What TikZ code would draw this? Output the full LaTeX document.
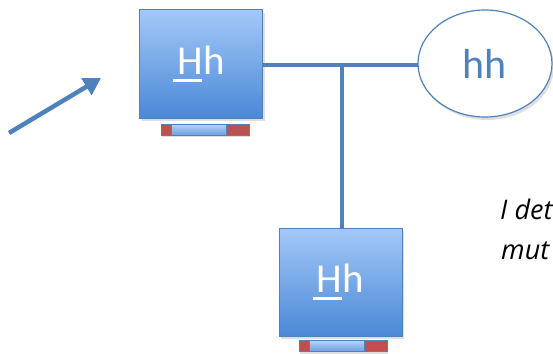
\documentclass[tikz,border=0pt]{standalone}
\usepackage{fontspec}
\setmainfont{Carlito}
\newfontfamily\notefont{Open Sans}
\usepackage{tikz}
\usetikzlibrary{arrows.meta}
\usetikzlibrary{shadows}
\usetikzlibrary{shapes.geometric}

\definecolor{boxtop}{HTML}{A4C8F8}
\definecolor{boxbottom}{HTML}{4A88D6}
\definecolor{boxline}{HTML}{4F81BD}
\definecolor{trayred}{HTML}{C0504D}
\definecolor{traylight}{HTML}{B5D3FA}
\definecolor{traydark}{HTML}{6F9FE0}

% underlined access letter
\newcommand{\keyletter}[1]{\rlap{\hspace{-4pt}\rule[-8pt]{29pt}{3pt}}#1}

\tikzset{
  host/.style={draw=boxline, line width=1pt, top color=boxtop, bottom color=boxbottom,
    minimum width=123, minimum height=108, inner sep=0,
    text=white, font=\fontsize{41}{46}\selectfont,
    drop shadow={opacity=0.25, shadow xshift=2pt, shadow yshift=-3pt}},
  tray/.style={draw=boxline, line width=1pt, top color=traylight, bottom color=traydark,
    minimum width=88, minimum height=11, inner sep=0,
    drop shadow={opacity=0.25, shadow xshift=1pt, shadow yshift=-2pt},
    path picture={
      \fill[trayred] (path picture bounding box.south west) rectangle
        ([xshift=10pt]path picture bounding box.north west);
      \fill[trayred] ([xshift=-23pt]path picture bounding box.south east) rectangle
        (path picture bounding box.north east);
      \draw[boxline] ([xshift=10pt]path picture bounding box.south west) --
        ([xshift=10pt]path picture bounding box.north west);
      \draw[boxline] ([xshift=-23pt]path picture bounding box.south east) --
        ([xshift=-23pt]path picture bounding box.north east);}},
  hub/.style={ellipse, draw=boxline, line width=1.2pt, fill=white,
    minimum width=134, minimum height=107, inner sep=0,
    text=boxline, font=\fontsize{42}{46}\selectfont,
    drop shadow={opacity=0.25, shadow xshift=2pt, shadow yshift=-3pt}},
  wire/.style={draw=boxline, line width=4pt},
  pointer/.style={draw=boxline, line width=4.5pt, -{Triangle[length=17pt,width=19pt]}},
  note/.style={font=\notefont\fontsize{27}{31}\selectfont\itshape, inner sep=0, anchor=base west}
}

\begin{document}
\begin{tikzpicture}[x=1pt, y=-1pt]
  \useasboundingbox (0,0) rectangle (553,353);
  \clip (0,0) rectangle (553,353);

  % Edges
  \coordinate (a0) at (9,133);
  \coordinate (a1) at (101,78);
  \draw[pointer] (a0) -- (a1);
  \coordinate (j) at (342,65);
  \draw[wire] (201,65) -- (485,65);
  \draw[wire] (j) -- (342,280);

  % Hosts
  \node[host] (h1) at (201,64) {\keyletter{H}h};
  \node[tray] (t1) at (205,129.5) {};
  \node[host] (h2) at (340.5,282) {\keyletter{H}h};
  \node[tray] (t2) at (343,346) {};
  \node[hub] (hh) at (485,63.5) {hh};

  % Notes
  \node[note] (n1) at (500,219) {I det};
  \node[note] (n2) at (501,259) {mut};
\end{tikzpicture}
\end{document}
